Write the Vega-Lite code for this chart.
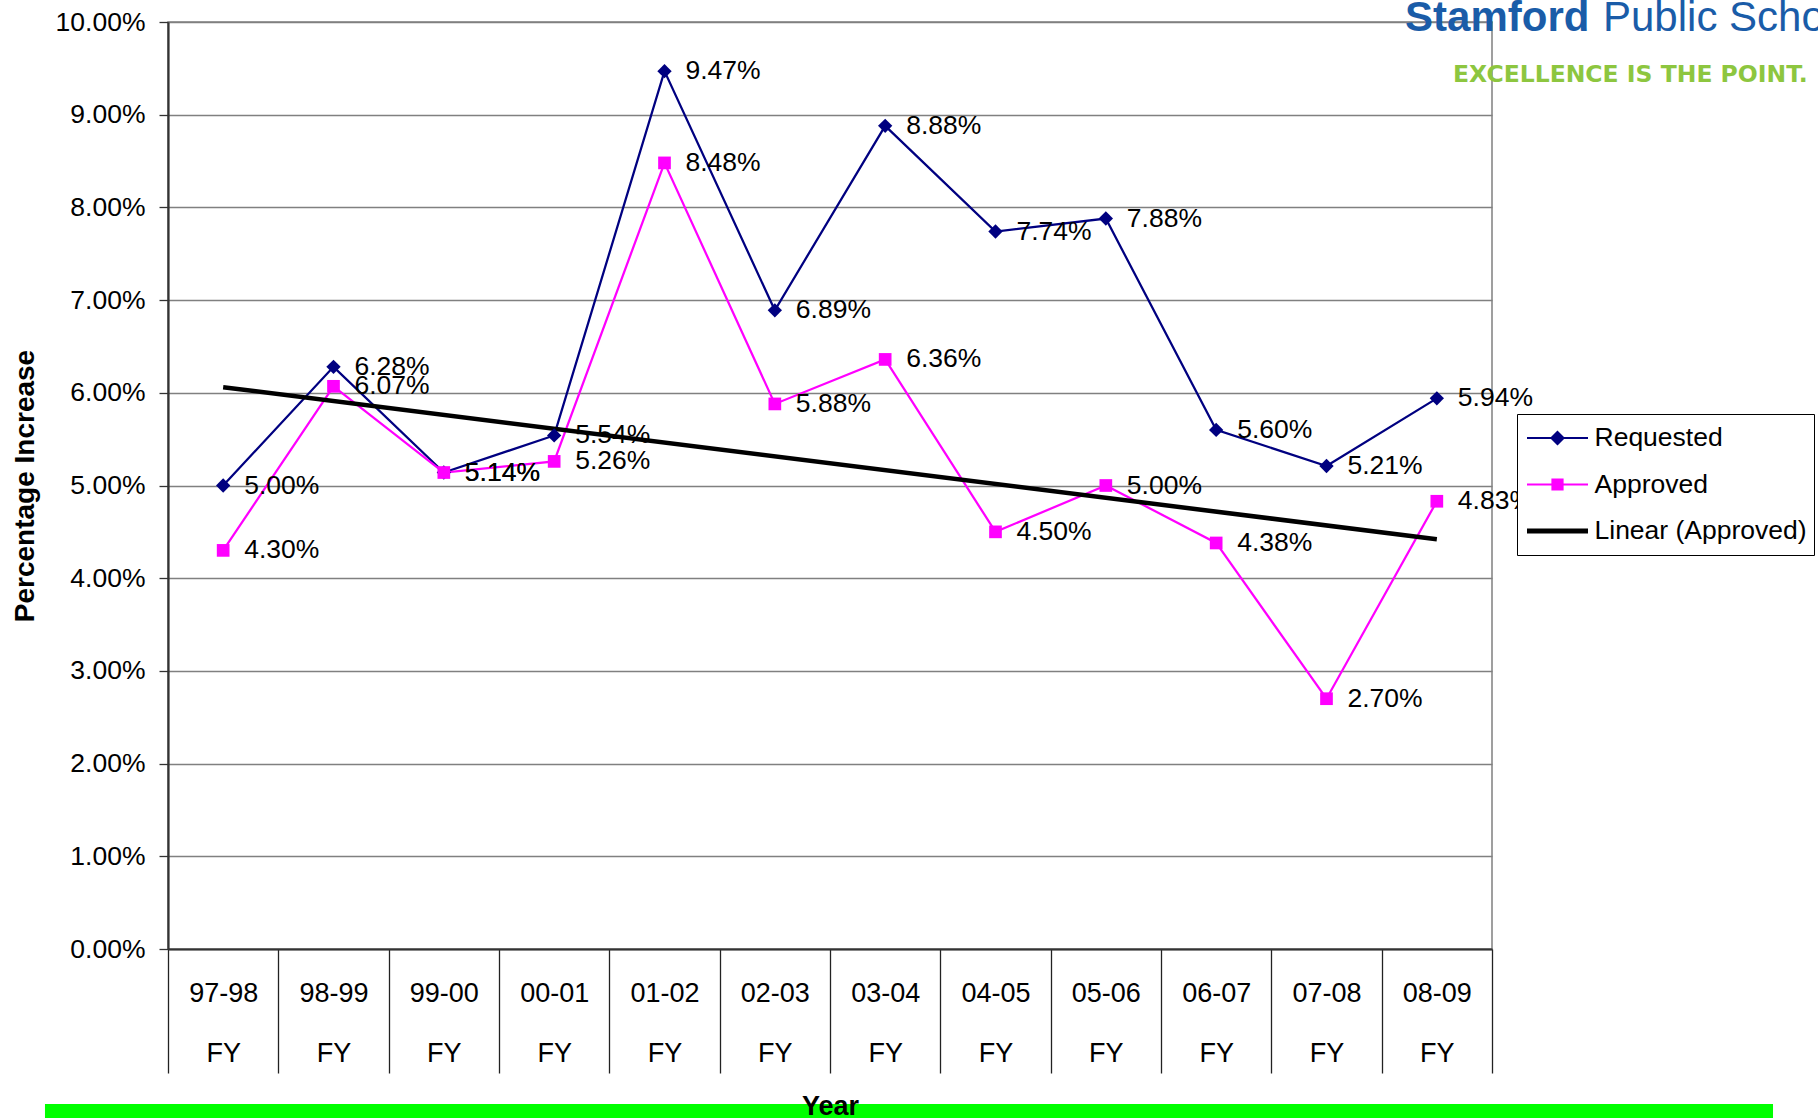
{
  "$schema": "https://vega.github.io/schema/vega-lite/v6.json",
  "width": 1324,
  "height": 927,
  "autosize": {"type": "none"},
  "padding": {"left": 168, "top": 22, "right": 326, "bottom": 169},
  "background": "#ffffff",
  "config": {
    "font": "Liberation Sans",
    "view": {"stroke": "#808080", "strokeWidth": 1.5}
  },
  "data": {
    "values": [
      {"year": "97-98", "series": "Requested", "value": 0.0500},
      {"year": "98-99", "series": "Requested", "value": 0.0628},
      {"year": "99-00", "series": "Requested", "value": 0.0514},
      {"year": "00-01", "series": "Requested", "value": 0.0554},
      {"year": "01-02", "series": "Requested", "value": 0.0947},
      {"year": "02-03", "series": "Requested", "value": 0.0689},
      {"year": "03-04", "series": "Requested", "value": 0.0888},
      {"year": "04-05", "series": "Requested", "value": 0.0774},
      {"year": "05-06", "series": "Requested", "value": 0.0788},
      {"year": "06-07", "series": "Requested", "value": 0.0560},
      {"year": "07-08", "series": "Requested", "value": 0.0521},
      {"year": "08-09", "series": "Requested", "value": 0.0594},
      {"year": "97-98", "series": "Approved", "value": 0.0430},
      {"year": "98-99", "series": "Approved", "value": 0.0607},
      {"year": "99-00", "series": "Approved", "value": 0.0514},
      {"year": "00-01", "series": "Approved", "value": 0.0526},
      {"year": "01-02", "series": "Approved", "value": 0.0848},
      {"year": "02-03", "series": "Approved", "value": 0.0588},
      {"year": "03-04", "series": "Approved", "value": 0.0636},
      {"year": "04-05", "series": "Approved", "value": 0.0450},
      {"year": "05-06", "series": "Approved", "value": 0.0500},
      {"year": "06-07", "series": "Approved", "value": 0.0438},
      {"year": "07-08", "series": "Approved", "value": 0.0270},
      {"year": "08-09", "series": "Approved", "value": 0.0483},
      {"year": "97-98", "series": "Linear (Approved)", "value": 0.0606},
      {"year": "08-09", "series": "Linear (Approved)", "value": 0.0442}
    ]
  },
  "layer": [
    {
      "encoding": {
        "x": {
          "field": "year",
          "type": "nominal",
          "bandPosition": 0.5,
          "scale": {
            "type": "band",
            "paddingInner": 0,
            "paddingOuter": 0,
            "domain": ["97-98", "98-99", "99-00", "00-01", "01-02", "02-03", "03-04", "04-05", "05-06", "06-07", "07-08", "08-09"]
          },
          "axis": {
            "title": "Year",
            "titleFontSize": 27,
            "titleFontWeight": "bold",
            "titleColor": "#000000",
            "titlePadding": 20,
            "labelAngle": 0,
            "labelExpr": "datum.label ? [datum.label, 'FY'] : ''",
            "labelLineHeight": 60,
            "labelFontSize": 27,
            "labelColor": "#000000",
            "labelPadding": -93,
            "labelOverlap": false,
            "labelBound": false,
            "tickBand": "extent",
            "tickSize": 124,
            "tickColor": "#222222",
            "tickWidth": 1.3,
            "domainColor": "#333333",
            "domainWidth": 2,
            "zindex": 1
          }
        },
        "y": {
          "field": "value",
          "type": "quantitative",
          "scale": {"domain": [0, 0.1], "nice": false, "zero": true},
          "axis": {
            "values": [0, 0.01, 0.02, 0.03, 0.04, 0.05, 0.06, 0.07, 0.08, 0.09, 0.1],
            "format": ".2%",
            "title": "Percentage Increase",
            "titleFontSize": 28,
            "titleFontWeight": "bold",
            "titleColor": "#000000",
            "titlePadding": 16,
            "labelFontSize": 26.5,
            "labelColor": "#000000",
            "labelPadding": 14,
            "tickSize": 9,
            "tickColor": "#333333",
            "tickWidth": 1.3,
            "domainColor": "#333333",
            "domainWidth": 2.2,
            "gridColor": "#808080",
            "gridWidth": 1.5
          }
        }
      },
      "layer": [
        {
          "transform": [{"filter": {"field": "series", "equal": "none"}}],
          "mark": {"type": "point", "filled": true, "opacity": 1, "size": 3721},
          "encoding": {
            "color": {
              "field": "series",
              "type": "nominal",
              "scale": {
                "domain": ["Requested", "Approved", "Linear (Approved)"],
                "range": ["#000080", "#FF00FF", "#000000"]
              },
              "legend": {
                "title": null,
                "orient": "none",
                "legendX": 1349,
                "legendY": 392,
                "strokeColor": "#000000",
                "fillColor": "#ffffff",
                "padding": 7,
                "symbolSize": 3721,
                "symbolOpacity": 1,
                "symbolStrokeWidth": 0,
                "clipHeight": 34,
                "rowPadding": 12.5,
                "symbolOffset": 3,
                "labelOffset": 6.5,
                "labelFontSize": 26.5,
                "labelColor": "#000000",
                "labelLimit": 400
              }
            },
            "shape": {
              "field": "series",
              "type": "nominal",
              "scale": {
                "domain": ["Requested", "Approved", "Linear (Approved)"],
                "range": [
                  "M-1,-0.036L1,-0.036L1,0.036L-1,0.036ZM-0.246,0L0,-0.246L0.246,0L0,0.246Z",
                  "M-1,-0.036L1,-0.036L1,0.036L-1,0.036ZM-0.2,-0.2L0.2,-0.2L0.2,0.2L-0.2,0.2Z",
                  "M-1,-0.082L1,-0.082L1,0.082L-1,0.082Z"
                ]
              },
              "legend": {"symbolOpacity": 1, "symbolStrokeWidth": 0}
            }
          }
        },
        {
          "transform": [{"filter": {"field": "series", "equal": "Requested"}}],
          "mark": {"type": "line", "strokeWidth": 2.25, "color": "#000080"}
        },
        {
          "transform": [{"filter": {"field": "series", "equal": "Approved"}}],
          "mark": {"type": "line", "strokeWidth": 2.25, "color": "#FF00FF"}
        },
        {
          "transform": [{"filter": {"field": "series", "equal": "Linear (Approved)"}}],
          "mark": {"type": "line", "strokeWidth": 4.5, "color": "#000000"}
        },
        {
          "transform": [{"filter": {"field": "series", "equal": "Requested"}}],
          "mark": {"type": "point", "shape": "diamond", "filled": true, "size": 205, "color": "#000080", "opacity": 1}
        },
        {
          "transform": [{"filter": {"field": "series", "equal": "Approved"}}],
          "mark": {"type": "point", "shape": "square", "filled": true, "size": 161, "color": "#FF00FF", "opacity": 1}
        },
        {
          "transform": [{"filter": {"field": "series", "oneOf": ["Requested", "Approved"]}}],
          "mark": {"type": "text", "align": "left", "baseline": "middle", "dx": 21, "fontSize": 26.5, "color": "#000000"},
          "encoding": {
            "text": {"field": "value", "type": "quantitative", "format": ".2%"}
          }
        }
      ]
    },
    {
      "data": {"values": [{"logo": "Stamford", "logo2": "Public Schools", "motto": "EXCELLENCE IS THE POINT."}]},
      "layer": [
        {
          "mark": {"type": "rect", "color": "#00FF00", "clip": false},
          "encoding": {
            "x": {"datum": -1.115, "type": "quantitative", "scale": {"domain": [0, 12], "nice": false, "zero": false}, "axis": null},
            "x2": {"datum": 14.547},
            "y": {"datum": -0.01672, "type": "quantitative"},
            "y2": {"datum": -0.0195}
          }
        },
        {
          "mark": {"type": "text", "align": "left", "baseline": "alphabetic", "fontSize": 42, "fontWeight": "bold", "color": "#1A5CA8"},
          "encoding": {
            "x": {"datum": 11.212, "type": "quantitative"},
            "y": {"datum": 0.09906, "type": "quantitative"},
            "text": {"field": "logo"}
          }
        },
        {
          "mark": {"type": "text", "align": "left", "baseline": "alphabetic", "fontSize": 42, "color": "#1A5CA8"},
          "encoding": {
            "x": {"datum": 13.006, "type": "quantitative"},
            "y": {"datum": 0.09906, "type": "quantitative"},
            "text": {"field": "logo2"}
          }
        },
        {
          "mark": {"type": "text", "align": "left", "baseline": "alphabetic", "font": "DejaVu Sans", "fontSize": 23.5, "fontWeight": "bold", "color": "#8DC63F"},
          "encoding": {
            "x": {"datum": 11.647, "type": "quantitative"},
            "y": {"datum": 0.09356, "type": "quantitative"},
            "text": {"field": "motto"}
          }
        }
      ]
    }
  ],
  "resolve": {"scale": {"x": "independent"}, "axis": {"x": "independent"}}
}
